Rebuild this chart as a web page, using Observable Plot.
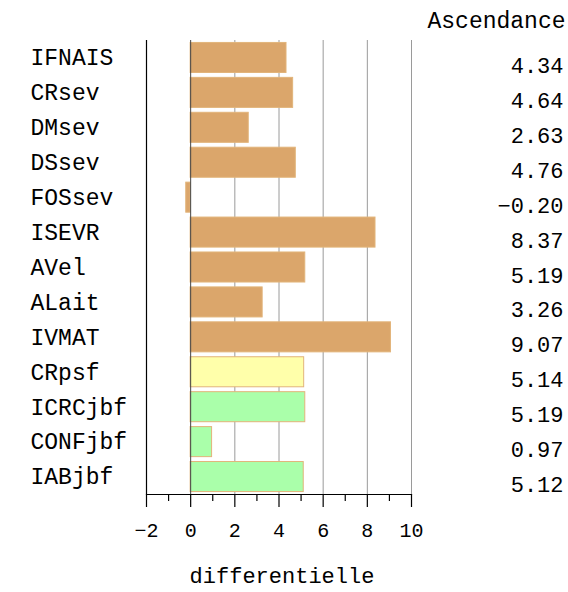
<!DOCTYPE html>
<html>
<head>
<meta charset="utf-8">
<script src="https://cdn.jsdelivr.net/npm/d3@7"></script>
<script src="https://cdn.jsdelivr.net/npm/@observablehq/plot@0.6"></script>
<style>
  body { margin: 0; background: #fff; }
  svg { font-family: "Liberation Mono", monospace; }
</style>
</head>
<body>
<div id="chart"></div>
<script>
const categories = ["IFNAIS","CRsev","DMsev","DSsev","FOSsev","ISEVR","AVel","ALait","IVMAT","CRpsf","ICRCjbf","CONFjbf","IABjbf"];
const values = [4.34, 4.64, 2.63, 4.76, -0.20, 8.37, 5.19, 3.26, 9.07, 5.14, 5.19, 0.97, 5.12];
const groups = ["a","a","a","a","a","a","a","a","a","b","c","c","c"];
const majorTicks = [-2, 0, 2, 4, 6, 8, 10];
const minorTicks = [-1, 1, 3, 5, 7, 9];
const gridTicks = [2, 4, 6, 8, 10];
const title = "Ascendance";
const xLabel = "differentielle";

const data = categories.map((c, i) => ({name: c, value: values[i], group: groups[i]}));
const fmt = d3.format(".2f");
const fmtMinus = v => fmt(v).replace("-", "\u2212");

const chart = Plot.plot({
  width: 568,
  height: 592,
  marginLeft: 146,
  marginRight: 157,
  marginTop: 40,
  marginBottom: 98,
  style: {fontFamily: "'Liberation Mono', monospace", background: "#fff"},
  x: {domain: [-2, 10]},
  y: {domain: categories, paddingInner: 0.14, paddingOuter: 0.07, round: false, axis: null},
  color: {domain: ["a","b","c"], range: ["#dba66b", "#ffffaa", "#aaffaa"]},
  marks: [
    Plot.ruleX(gridTicks, {stroke: "#9a9a9a", strokeWidth: 1}),
    Plot.barX(data, {x: "value", y: "name", fill: "group", stroke: "#e2b47a", strokeWidth: 1}),
    Plot.ruleX([0], {stroke: "#444", strokeWidth: 1}),
    Plot.ruleX([-2], {stroke: "#000", strokeWidth: 1.2}),
    Plot.frame({anchor: "bottom", stroke: "#000", strokeWidth: 1.2}),
    Plot.axisX(majorTicks, {tickSize: 13, tickPadding: 15, fontSize: 20, tickFormat: d => String(d).replace("-", "\u2212"), stroke: "#000", strokeWidth: 1.2, label: null, color: "#000"}),
    Plot.axisX(minorTicks, {tickSize: 7, tickFormat: () => "", stroke: "#000", strokeWidth: 1.2, label: null}),
    Plot.text(data, {y: "name", frameAnchor: "left", dx: -116, textAnchor: "start", text: "name", fontSize: 23, fill: "#000"}),
    Plot.text(data, {y: "name", frameAnchor: "right", dx: 152, dy: 8, textAnchor: "end", text: d => fmtMinus(d.value), fontSize: 22, fill: "#000"}),
    Plot.text([title], {frameAnchor: "top-right", lineAnchor: "middle", dx: 154, dy: -20, textAnchor: "end", fontSize: 23, fill: "#000"}),
    Plot.text([xLabel], {frameAnchor: "bottom", lineAnchor: "middle", dx: 3, dy: 81, fontSize: 22, fill: "#000"})
  ]
});
document.getElementById("chart").append(chart);
</script>
</body>
</html>
